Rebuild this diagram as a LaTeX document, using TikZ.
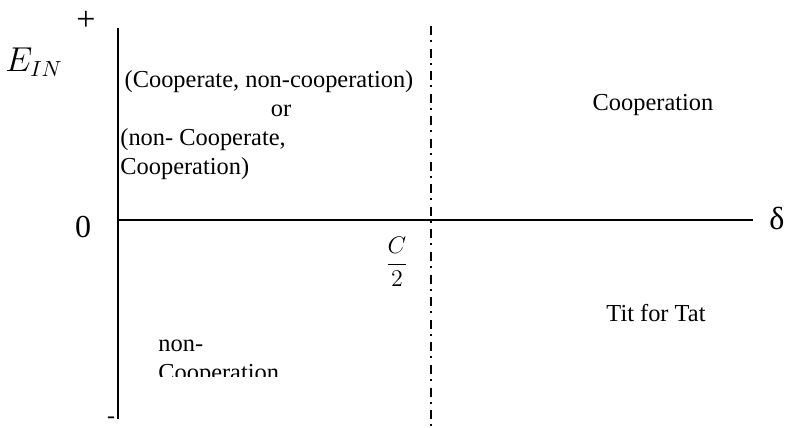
\documentclass[tikz,border=0pt]{standalone}
\usepackage{fontspec}
\setmainfont{Liberation Serif}
\begin{document}
\begin{tikzpicture}[x=0.5pt,y=-0.5pt,
  axis/.style={line width=0.9pt},
  divider/.style={line width=0.7pt, dash pattern=on 4.5pt off 2.5pt on 1pt off 3.3pt},
  lbl/.style={inner sep=0pt, font=\fontsize{12.2}{14.5}\selectfont},
  big/.style={inner sep=0pt, font=\fontsize{16}{18}\selectfont}]
\useasboundingbox (0,0) rectangle (787,428);
% axes
\coordinate (vtop) at (118,28);
\coordinate (vbot) at (118,419);
\coordinate (hleft) at (118,220);
\coordinate (hright) at (753,220);
\coordinate (dtop) at (431,26);
\coordinate (dbot) at (431,428);
\draw[axis] (vtop) -- (vbot);
\draw[axis] (hleft) -- (hright);
\draw[divider] (dtop) -- (dbot);
% axis labels
\node[inner sep=0pt, font=\fontsize{17}{19}\selectfont] (plus) at (86,21) {+};
\node[inner sep=0pt, font=\fontsize{12}{14}\selectfont] (minus) at (111,420) {-};
\node[inner sep=0pt, font=\fontsize{16}{18}\selectfont] (ein) at (34,62) {$E_{IN}$};
\node[big] (zero) at (83,227) {0};
\node[inner sep=0pt, font=\fontsize{16}{18}\selectfont] (delta) at (777,218) {δ};
\node[inner sep=0pt, font=\fontsize{13}{15}\selectfont] (c2) at (397,262) {$\displaystyle\frac{C}{2}$};
% region labels
\node[lbl] (l1) at (269,82) {(Cooperate, non-cooperation)};
\node[lbl] (l2) at (281,111) {or};
\node[lbl, anchor=west] (l3) at (120,140) {(non- Cooperate,};
\node[lbl, anchor=west] (l4) at (120,169) {Cooperation)};
\node[lbl] (coop) at (653,105) {Cooperation};
\node[lbl] (tft) at (656,313) {Tit for Tat};
\node[lbl, anchor=west] (nc1) at (158,346) {non-};
\begin{scope}
  \clip (150,360) rectangle (300,376);
  \node[lbl, anchor=west] (nc2) at (158,375) {Cooperation};
\end{scope}
\end{tikzpicture}
\end{document}
